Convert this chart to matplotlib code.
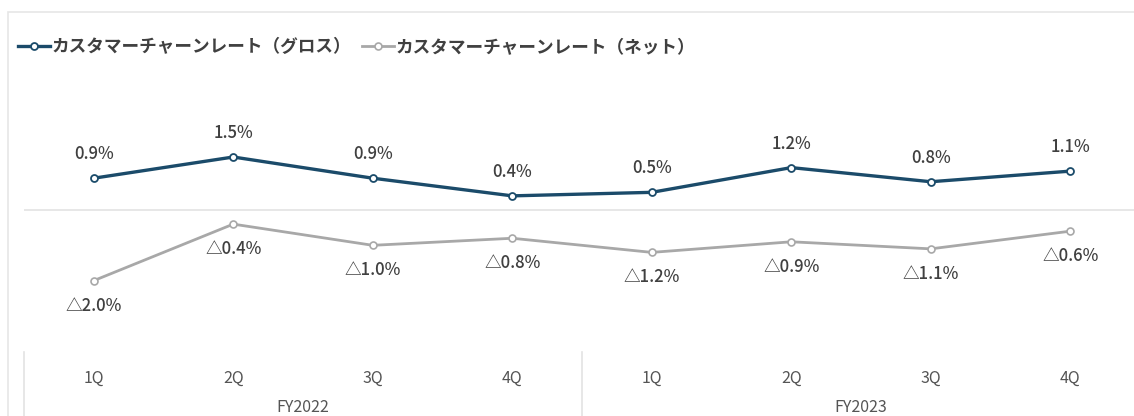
import matplotlib
matplotlib.use("Agg")
import matplotlib.pyplot as plt
from matplotlib.lines import Line2D
from matplotlib.patches import Rectangle

plt.rcParams['font.family'] = ['Noto Sans CJK JP', 'DejaVu Sans']

quarters = ["1Q", "2Q", "3Q", "4Q", "1Q", "2Q", "3Q", "4Q"]
years = ["FY2022", "FY2023"]
gross = [0.9, 1.5, 0.9, 0.4, 0.5, 1.2, 0.8, 1.1]
net = [-2.0, -0.4, -1.0, -0.8, -1.2, -0.9, -1.1, -0.6]
gross_name = "カスタマーチャーンレート（グロス）"
net_name = "カスタマーチャーンレート（ネット）"

NAVY = "#1b4b6a"
GREY = "#a8a8a8"
TXT = "#404040"
W, H = 1134, 416

fig = plt.figure(figsize=(W / 100, H / 100), dpi=100)
# plot area in pixels: x 24..1140, y 80..352 (top-down)
ax = fig.add_axes([24 / W, (H - 352) / H, (1140 - 24) / W, (352 - 80) / H])
ax.set_xlim(-0.5, 7.5)
ax.set_ylim(-4.02, 3.68)
ax.axis("off")

ax.axhline(0, color="#e3e3e3", lw=1.2, zorder=1)

x = list(range(len(quarters)))
ax.plot(x, gross, color=NAVY, lw=2.4, marker="o", ms=5, mfc="white",
        mec=NAVY, mew=1.3, zorder=3)
ax.plot(x, net, color=GREY, lw=2.0, marker="o", ms=5, mfc="white",
        mec=GREY, mew=1.2, zorder=3)

for xi, v in zip(x, gross):
    ax.annotate(f"{v:.1f}%", (xi, v), xytext=(0, 24), textcoords="offset pixels",
                ha="center", va="center", fontsize=12, color=TXT,
                fontweight="medium")
for xi, v in zip(x, net):
    ax.annotate(f"△{abs(v):.1f}%", (xi, v), xytext=(0, -25),
                textcoords="offset pixels", ha="center", va="center",
                fontsize=12, color=TXT, fontweight="medium")

# category axis: quarter labels, fiscal year labels and group separators
for xi, q in zip(x, quarters):
    ax.annotate(q, (xi, 0), xycoords=("data", "axes fraction"),
                xytext=(0, -26), textcoords="offset pixels", ha="center",
                va="center", fontsize=11.5, color="#555555")
for gi, fy in enumerate(years):
    ax.annotate(fy, (gi * 4 + 1.5, 0), xycoords=("data", "axes fraction"),
                xytext=(0, -56), textcoords="offset pixels", ha="center",
                va="center", fontsize=11.5, color="#555555")
for sep in (-0.5, 3.5, 7.5):
    ax.plot([sep, sep], [0, -0.4], transform=ax.get_xaxis_transform(),
            color="#e3e3e3", lw=1.2, clip_on=False)

# outer frame of the original chart box (partly cropped)
fig.add_artist(Rectangle((8 / W, -0.1), 1.2, (H - 12) / H + 0.1,
                         transform=fig.transFigure, fill=False,
                         ec="#e6e6e6", lw=1.2))

handles = [
    Line2D([], [], color=NAVY, lw=2.4, marker="o", ms=5, mfc="white",
           mec=NAVY, mew=1.3),
    Line2D([], [], color=GREY, lw=2.0, marker="o", ms=5, mfc="white",
           mec=GREY, mew=1.2),
]
leg = fig.legend(handles, [gross_name, net_name], loc="center left",
                 bbox_to_anchor=(18 / W, (H - 47) / H), ncol=2, frameon=False,
                 fontsize=12.7, handlelength=1.8, handletextpad=0.12,
                 columnspacing=0.6, borderpad=0, borderaxespad=0)
for t in leg.get_texts():
    t.set_color(TXT)
    t.set_fontweight("bold")

fig.savefig("out.png", dpi=100)
